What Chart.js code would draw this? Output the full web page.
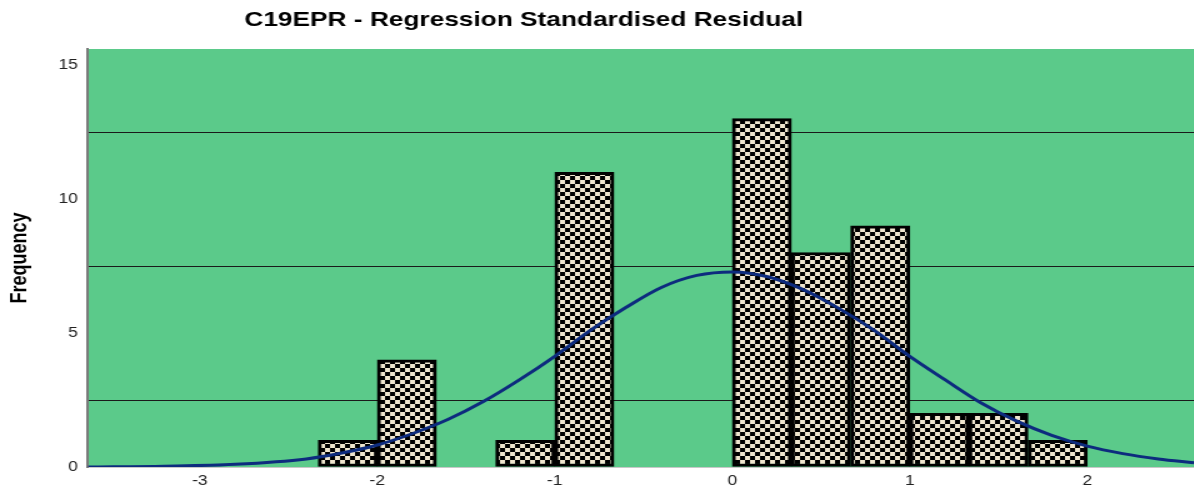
<!DOCTYPE html>
<html>
<head>
<meta charset="utf-8">
<script src="https://cdn.jsdelivr.net/npm/chart.js@4/dist/chart.umd.min.js"></script>
<style>
  html, body { margin: 0; padding: 0; background: #ffffff; overflow: hidden; }
  /* la imagen original esta estirada a lo ancho, asi que estiramos igual */
  #wrap { width: 955px; height: 491px; transform: scaleX(1.25); transform-origin: 0 0; }
</style>
</head>
<body>
<div id="wrap"><canvas id="histChart" width="955" height="491"></canvas></div>
<script>
// datos
const titulo = 'C19EPR - Regression Standardised Residual';
const binStart = [-2.333, -2.0, -1.667, -1.333, -1.0, -0.667, -0.333, 0.0, 0.333, 0.667, 1.0, 1.333, 1.667];
const binWidth = 0.3333;
const counts   = [1, 4, 0, 1, 11, 0, 0, 13, 8, 9, 2, 2, 1];

// curva normal
const curveX = [-3.63, -3.2, -2.8, -2.4, -2.2, -2.0, -1.8, -1.6, -1.4, -1.2, -1.0, -0.8, -0.6, -0.4, -0.2, 0.0,
                0.2, 0.4, 0.6, 0.8, 1.0, 1.2, 1.4, 1.6, 1.8, 2.0, 2.2, 2.4, 2.6];
const curveY = [0.0, 0.03, 0.1, 0.3, 0.52, 0.82, 1.25, 1.78, 2.45, 3.25, 4.13, 5.1, 5.95, 6.7, 7.15, 7.28,
                7.1, 6.62, 5.92, 5.1, 4.13, 3.25, 2.4, 1.72, 1.18, 0.78, 0.5, 0.3, 0.16];

const yTicks = [0, 2.5, 5, 7.5, 10, 12.5, 15];
const xTicks = [-3, -2, -1, 0, 1, 2];

// patron de cuadros para las barras
function crearPatron() {
    const c = document.createElement('canvas');
    c.width = 8; c.height = 8;
    const g = c.getContext('2d');
    g.fillStyle = '#efe6cf';
    g.fillRect(0, 0, 8, 8);
    g.fillStyle = '#000000';
    g.fillRect(0, 0, 4, 4);
    g.fillRect(4, 4, 4, 4);
    return document.getElementById('histChart').getContext('2d').createPattern(c, 'repeat');
}
const patron = crearPatron();

// solo las barras con frecuencia > 0
const barras = binStart
    .map((b, i) => ({ x: b + binWidth / 2, y: counts[i] }))
    .filter(p => p.y > 0);
const curva = curveX.map((x, i) => ({ x: x, y: curveY[i] }));

// fondo verde del area del grafico + titulo
const fondoPlugin = {
    id: 'fondo',
    beforeDraw(chart) {
        const { ctx, chartArea: a } = chart;
        ctx.save();
        ctx.fillStyle = '#5bca8a';
        ctx.fillRect(a.left, a.top, a.right - a.left, a.bottom - a.top);
        ctx.restore();
    },
    afterDraw(chart) {
        const ctx = chart.ctx;
        ctx.save();
        ctx.font = 'bold 21px "Liberation Sans", Arial, sans-serif';
        ctx.fillStyle = '#000000';
        ctx.textAlign = 'center';
        ctx.textBaseline = 'middle';
        ctx.fillText(titulo, 419, 20);
        ctx.restore();
    }
};

new Chart(document.getElementById('histChart'), {
    type: 'bar',
    data: {
        datasets: [
            {
                type: 'line',
                data: curva,
                borderColor: '#0d2b7e',
                borderWidth: 3,
                pointRadius: 0,
                cubicInterpolationMode: 'monotone',
                fill: false,
                order: 0
            },
            {
                type: 'bar',
                data: barras,
                backgroundColor: patron,
                borderColor: '#000000',
                borderWidth: 3,
                borderSkipped: false,
                barPercentage: 1.0,
                categoryPercentage: 1.0,
                order: 1
            }
        ]
    },
    options: {
        responsive: false,
        animation: false,
        layout: { padding: { top: 49, right: 0, left: 0, bottom: 0 } },
        plugins: {
            legend: { display: false },
            tooltip: { enabled: false }
        },
        scales: {
            x: {
                type: 'linear',
                offset: false,
                min: -3.63,
                max: 2.6,
                afterBuildTicks: s => { s.ticks = xTicks.map(v => ({ value: v })); },
                afterFit: s => { s.height = 24; },
                grid: { display: false, drawTicks: false },
                border: { display: true, color: '#c8c8c8', width: 1 },
                ticks: {
                    color: '#222222',
                    font: { family: '"Liberation Sans", Arial, sans-serif', size: 14 },
                    padding: 6,
                    maxRotation: 0
                }
            },
            y: {
                min: 0,
                max: 15.6,
                afterBuildTicks: s => { s.ticks = yTicks.map(v => ({ value: v })); },
                afterFit: s => { s.width = 70.4; },
                grid: {
                    drawTicks: false,
                    color: c => (c.tick && c.tick.value % 5 !== 0 ? '#1a1a1a' : 'rgba(0,0,0,0)'),
                    lineWidth: 1
                },
                border: { display: true, color: '#7a7a7a', width: 2 },
                ticks: {
                    color: '#222222',
                    font: { family: '"Liberation Sans", Arial, sans-serif', size: 14 },
                    padding: 8,
                    callback: v => (v % 5 === 0 ? v : '')
                },
                title: {
                    display: true,
                    text: 'Frequency',
                    color: '#000000',
                    font: { family: '"Liberation Sans", Arial, sans-serif', size: 18, weight: 'bold' },
                    padding: { top: 5, bottom: 0 }
                }
            }
        }
    },
    plugins: [fondoPlugin]
});
</script>
</body>
</html>
